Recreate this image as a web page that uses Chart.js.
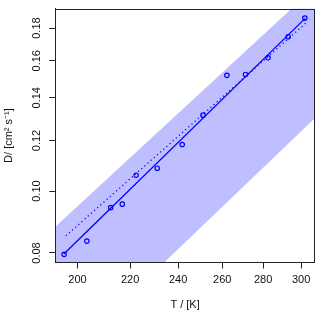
<!DOCTYPE html>
<html>
<head>
<meta charset="utf-8">
<script src="https://cdn.jsdelivr.net/npm/chart.js@4/dist/chart.umd.min.js"></script>
<style>
  html, body { margin: 0; padding: 0; background: #fff; }
  #wrap { width: 320px; height: 313px; }
</style>
</head>
<body>
<div id="wrap"><canvas id="chart"></canvas></div>
<script>
// measured points
const temps = [195.2, 203.4, 212.4, 216.9, 222.4, 231.1, 241.8, 251.1, 262.2, 271.2, 282.5, 293.0, 302.0];
const diffs = [0.0796, 0.0835, 0.0942, 0.0954, 0.1059, 0.1086, 0.1183, 0.1315, 0.1518, 0.1523, 0.1617, 0.1745, 0.1866];

// fitted line (solid) and reference line (dotted)
const fitT = [195.1, 302.2];
const fitD = [0.0797, 0.1864];
const refT = [195.8, 302.5];
const refD = [0.0851, 0.1832];

// shaded band edges
const bandT = [192.1, 307.5];
const bandUpper = [0.0879, 0.2086];
const bandLower = [0.0531, 0.1300];

// tick labels
const xTicks = [200, 220, 240, 260, 280, 300];
const yTicks = [0.08, 0.10, 0.12, 0.14, 0.16, 0.18];

const blue = '#0000ff';
const fontFam = "'Liberation Sans', Arial, sans-serif";

function pairs(xs, ys) {
  return xs.map((x, i) => ({ x: x, y: ys[i] }));
}

// draw the box around the plot region
const boxPlugin = {
  id: 'box',
  afterDraw(chart) {
    const a = chart.chartArea;
    const ctx = chart.ctx;
    ctx.save();
    ctx.strokeStyle = '#222';
    ctx.lineWidth = 1;
    ctx.strokeRect(Math.round(a.left) + 0.5, Math.round(a.top) + 0.5,
      Math.round(a.right - a.left) - 1, Math.round(a.bottom - a.top) - 1);
    ctx.restore();
  }
};

new Chart(document.getElementById('chart'), {
  type: 'scatter',
  data: {
    datasets: [
      {
        label: 'data',
        data: pairs(temps, diffs),
        showLine: false,
        pointStyle: 'circle',
        pointRadius: 2.2,
        pointBorderWidth: 1.2,
        pointBorderColor: blue,
        pointBackgroundColor: 'rgba(0,0,0,0)'
      },
      {
        label: 'fit',
        data: pairs(fitT, fitD),
        showLine: true,
        borderColor: blue,
        borderWidth: 1.3,
        pointRadius: 0
      },
      {
        label: 'reference',
        data: pairs(refT, refD),
        showLine: true,
        borderColor: blue,
        borderWidth: 1.3,
        borderDash: [1.2, 3],
        pointRadius: 0
      },
      {
        label: 'upper',
        data: pairs(bandT, bandUpper),
        showLine: true,
        borderWidth: 0,
        borderColor: 'rgba(0,0,0,0)',
        backgroundColor: '#bfbfff',
        pointRadius: 0,
        fill: '+1'
      },
      {
        label: 'lower',
        data: pairs(bandT, bandLower),
        showLine: true,
        borderWidth: 0,
        borderColor: 'rgba(0,0,0,0)',
        pointRadius: 0
      }
    ]
  },
  options: {
    responsive: true,
    maintainAspectRatio: false,
    animation: false,
    layout: { padding: { top: 3, right: 3.5, left: 0, bottom: 0 } },
    plugins: {
      legend: { display: false },
      tooltip: { enabled: false }
    },
    scales: {
      x: {
        type: 'logarithmic',
        min: bandT[0],
        max: bandT[1],
        afterBuildTicks: (s) => { s.ticks = xTicks.map(v => ({ value: v })); },
        afterFit: (s) => { s.height = 50.5; },
        ticks: {
          autoSkip: false,
          maxRotation: 0,
          padding: 5,
          color: '#111',
          font: { family: fontFam, size: 11 },
          callback: (v) => String(v)
        },
        grid: { drawOnChartArea: false, drawTicks: true, tickLength: 6, color: '#222' },
        border: { display: true, color: '#222' },
        title: {
          display: true,
          text: 'T / [K]',
          color: '#111',
          font: { family: fontFam, size: 11 },
          padding: { top: 0, bottom: 1.5 }
        }
      },
      y: {
        type: 'logarithmic',
        min: 0.0773,
        max: 0.1931,
        afterBuildTicks: (s) => { s.ticks = yTicks.map(v => ({ value: v })); },
        afterFit: (s) => { s.width = 55.3; },
        ticks: {
          autoSkip: false,
          minRotation: 90,
          maxRotation: 90,
          crossAlign: 'center',
          padding: 2,
          color: '#111',
          font: { family: fontFam, size: 11 },
          callback: (v) => Number(v).toFixed(2)
        },
        grid: { drawOnChartArea: false, drawTicks: true, tickLength: 6, color: '#222' },
        border: { display: true, color: '#222' },
        title: {
          display: true,
          text: 'D/ [cm² s⁻¹]',
          color: '#111',
          font: { family: fontFam, size: 11 },
          padding: { top: 2, bottom: 0 }
        }
      }
    }
  },
  plugins: [boxPlugin]
});
</script>
</body>
</html>
